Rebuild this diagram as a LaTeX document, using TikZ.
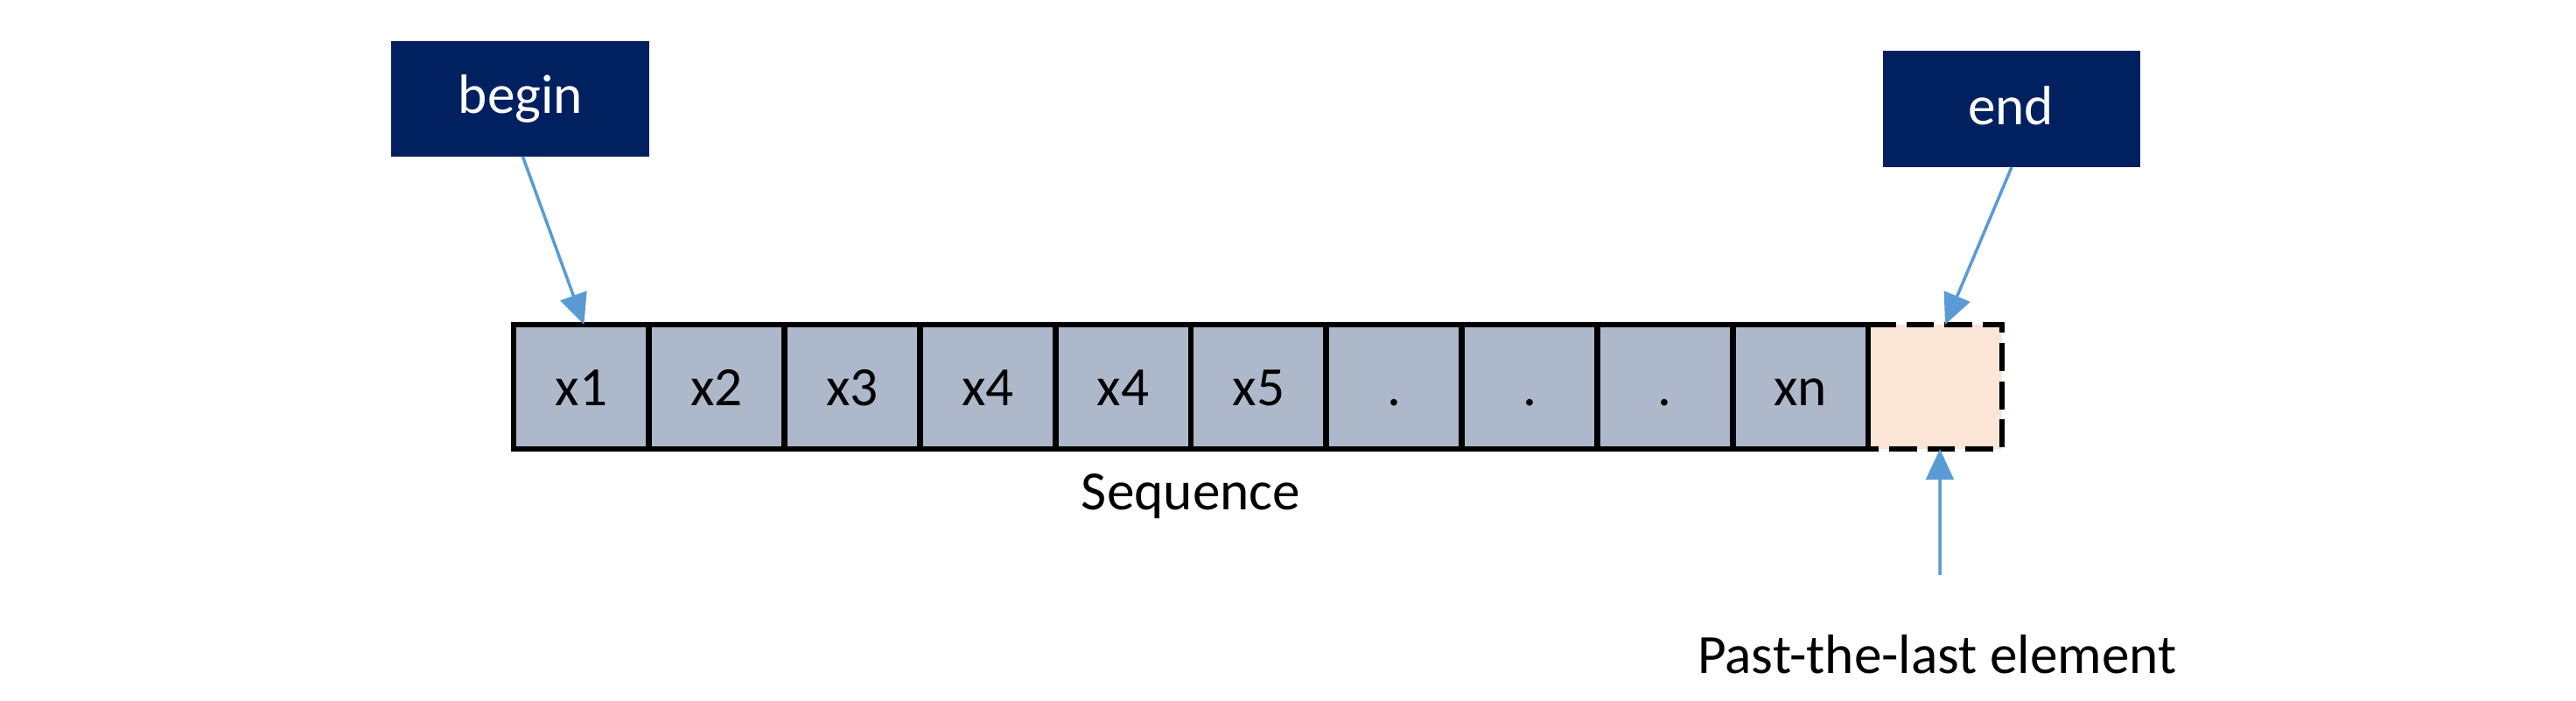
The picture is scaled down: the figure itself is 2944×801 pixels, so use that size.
\documentclass[tikz,border=0pt]{standalone}
\usepackage{fontspec}
\setmainfont{Carlito}
\usetikzlibrary{arrows.meta}
\definecolor{navy}{HTML}{002060}
\definecolor{cellfill}{HTML}{ADB9CA}
\definecolor{pastfill}{HTML}{FBE5D6}
\definecolor{arrowblue}{HTML}{5B9BD5}
\tikzset{
  txt/.style={font=\fontsize{18}{21.6}\selectfont, inner sep=0pt},
  ptrbox/.style={fill=navy, inner sep=0pt, outer sep=0pt},
  cellbox/.style={draw=black, fill=cellfill, line width=1.9pt, minimum width=1.548cm, minimum height=1.42cm, inner sep=0pt, outer sep=0pt, font=\fontsize{18}{21.6}\selectfont, text height=12pt, text depth=0pt},
  pastbox/.style={fill=pastfill, minimum width=1.53cm, minimum height=1.42cm, inner sep=0pt, outer sep=0pt},
  arr/.style={draw=arrowblue, line width=1pt, -{Triangle[length=10pt,width=9pt]}},
}
\begin{document}
\begin{tikzpicture}[x=0.01cm, y=-0.01cm]
\useasboundingbox[fill=white] (0,0) rectangle (2944,801);
% pointer boxes
\node[ptrbox, minimum width=2.95cm, minimum height=1.32cm] (begin) at (594.5,113) {};
\node[txt, text=white, anchor=base] (begintxt) at (595,130) {begin};
\node[ptrbox, minimum width=2.94cm, minimum height=1.33cm] (end) at (2299,124.5) {};
\node[txt, text=white, anchor=base] (endtxt) at (2298,143) {end};
% past-the-last cell
\node[pastbox] (past) at (2211.5,442) {};
\draw[line width=1.9pt, dash pattern=on 9pt off 3.4pt] (past.north west) -- (past.north east) -- (past.south east) -- (past.south west);
% sequence cells
\foreach \i/\t in {1/x1,2/x2,3/x3,4/x4,5/x4,6/x5,7/.,8/.,9/.,10/xn}{
  \node[cellbox] (c\i) at ({587+154.8*(\i-0.5)},442) {\t};
}
% labels
\node[txt, anchor=base] (seq) at (1361,583) {Sequence};
\node[txt, anchor=base] (pastlbl) at (2214,770) {Past-the-last element};
\coordinate (upstart) at (2217,657);
% connectors
\draw[arr] ([xshift=0.03cm]begin.south) -- ([xshift=0.03cm]c1.north);
\draw[arr] (end.south) -- ([xshift=0.115cm]past.north);
\draw[arr] (upstart) -- ([xshift=0.055cm]past.south);
\end{tikzpicture}
\end{document}
